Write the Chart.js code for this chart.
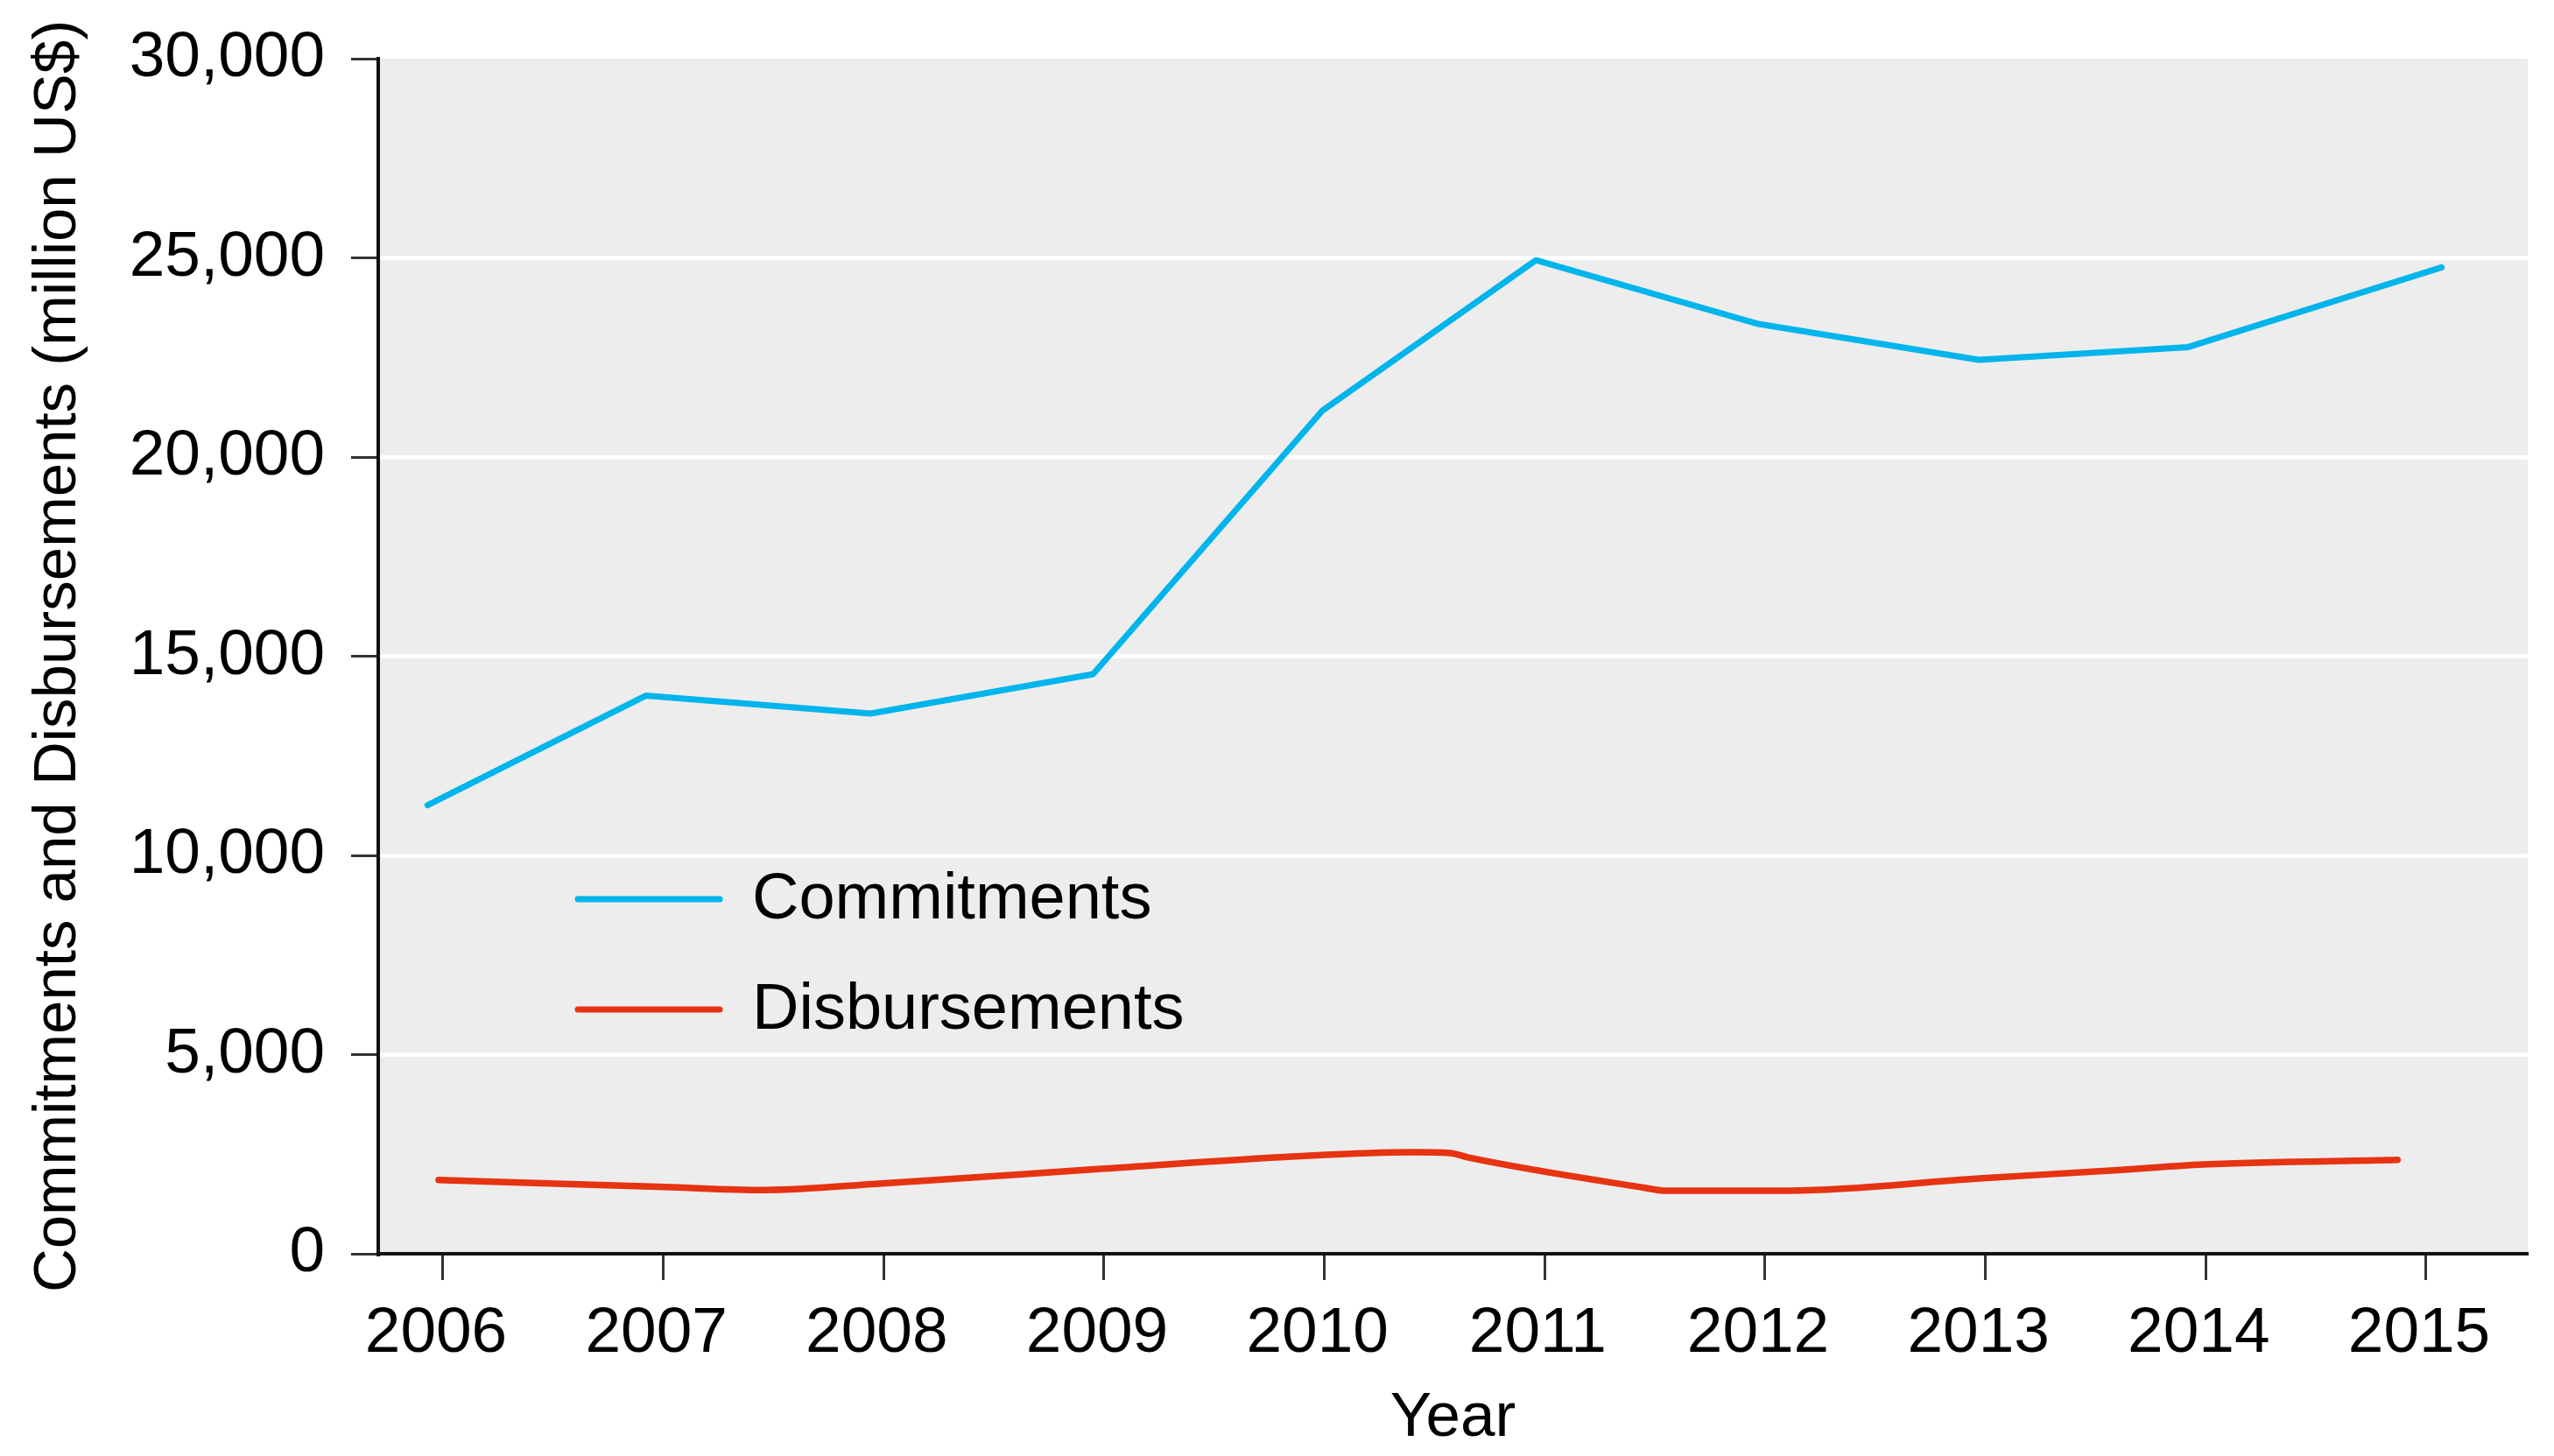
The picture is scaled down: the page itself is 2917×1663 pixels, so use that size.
<!DOCTYPE html>
<html>
<head>
<meta charset="utf-8">
<title>Commitments and Disbursements</title>
<script src="https://cdn.jsdelivr.net/npm/chart.js@4.4.0/dist/chart.umd.min.js"></script>
<style>
  html, body { margin: 0; padding: 0; background: #fff; }
  canvas { display: block; }
</style>
</head>
<body>
<canvas id="aid-canvas" width="2917" height="1663"></canvas>
<script>
/* values */
const yearTicks = [2006, 2007, 2008, 2009, 2010, 2011, 2012, 2013, 2014, 2015];

const commitYears  = [2005.93, 2006.92, 2007.94, 2008.95, 2009.99, 2010.96, 2011.97, 2012.97, 2013.92, 2015.07];
const commitValues = [11260, 14010, 13560, 14550, 21160, 24940, 23340, 22440, 22760, 24760];

const disbYears  = [2005.98, 2007.01, 2007.46, 2007.99, 2009.00, 2009.87, 2010.40, 2010.57, 2010.65,
                    2011.46, 2011.54, 2012.11, 2012.97, 2013.60, 2013.99, 2014.87];
const disbValues = [1850, 1675, 1600, 1765, 2135, 2445, 2550, 2530, 2420,
                    1650, 1585, 1585, 1890, 2100, 2240, 2355];

const FONT = '"Liberation Sans", Arial, Helvetica, sans-serif';

function points(xs, ys){
  return xs.map((x, i) => ({x: x, y: ys[i]}));
}

// grey panel behind the plot
const panel = {
  id: 'panel',
  beforeDraw(chart){
    const {ctx, chartArea: a} = chart;
    ctx.save();
    ctx.fillStyle = '#ededed';
    ctx.fillRect(a.left, a.top, a.right - a.left, a.bottom - a.top);
    ctx.restore();
  }
};

// legend sits inside the plot, lower left
const insideLegend = {
  id: 'insideLegend',
  afterDatasetsDraw(chart){
    const {ctx, chartArea: a} = chart;
    ctx.save();
    ctx.font = '74px ' + FONT;
    ctx.textBaseline = 'middle';
    ctx.lineCap = 'round';
    chart.data.datasets.forEach((ds, i) => {
      const y = a.top + 960 + i * 126;
      ctx.strokeStyle = ds.borderColor;
      ctx.lineWidth = 7;
      ctx.beginPath();
      ctx.moveTo(a.left + 228, y);
      ctx.lineTo(a.left + 390, y);
      ctx.stroke();
      ctx.fillStyle = '#000';
      ctx.fillText(ds.label, a.left + 427, y + 2);
    });
    ctx.restore();
  }
};

const ctx = document.getElementById('aid-canvas');
const chart = new Chart(ctx, {
  type: 'line',
  plugins: [panel, insideLegend],
  data: {
    datasets: [{
      label: 'Commitments',
      data: points(commitYears, commitValues),
      borderColor: '#00b4ec',
      borderWidth: 7,
      borderCapStyle: 'round',
      borderJoinStyle: 'round',
      pointRadius: 0,
      tension: 0
    }, {
      label: 'Disbursements',
      data: points(disbYears, disbValues),
      borderColor: '#e63312',
      borderWidth: 7.5,
      borderCapStyle: 'round',
      borderJoinStyle: 'round',
      pointRadius: 0,
      cubicInterpolationMode: 'monotone'
    }]
  },
  options: {
    responsive: false,
    devicePixelRatio: 1,
    animation: false,
    events: [],
    layout: {
      padding: {top: 67, right: 30, left: 0, bottom: 0}
    },
    plugins: {
      legend: {display: false},
      tooltip: {enabled: false}
    },
    scales: {
      x: {
        type: 'linear',
        min: 2005.706,
        max: 2015.461,
        afterBuildTicks: s => { s.ticks = yearTicks.map(v => ({value: v})); },
        afterFit: s => { s.height = 231; s.paddingLeft = 0; s.paddingRight = 0; },
        grid: {
          drawOnChartArea: false,
          tickLength: 30,
          tickColor: '#333',
          tickWidth: 3
        },
        border: {display: true, color: '#111', width: 4},
        ticks: {
          font: {family: FONT, size: 73},
          color: '#000',
          padding: 18,
          labelOffset: -8,
          maxRotation: 0,
          autoSkip: false,
          callback: v => String(v)
        },
        title: {
          display: true,
          text: 'Year',
          font: {family: FONT, size: 71},
          color: '#000',
          padding: {top: 0, bottom: 0}
        }
      },
      y: {
        min: 0,
        max: 30000,
        afterFit: s => { s.width = 432; s.paddingTop = 0; s.paddingBottom = 0; },
        grid: {
          color: c => (c.tick && c.tick.value > 0 && c.tick.value < 30000) ? '#ffffff' : 'rgba(0,0,0,0)',
          lineWidth: 5,
          tickLength: 31,
          tickColor: '#333',
          tickWidth: 3
        },
        border: {display: true, color: '#111', width: 4},
        ticks: {
          stepSize: 5000,
          font: {family: FONT, size: 73},
          color: '#000',
          padding: 30,
          callback: v => v.toLocaleString('en-US')
        },
        title: {
          display: true,
          text: 'Commitments and Disbursements (million US$)',
          font: {family: FONT, size: 69},
          color: '#000',
          padding: {top: 26, bottom: 0}
        }
      }
    }
  }
});
</script>
</body>
</html>
